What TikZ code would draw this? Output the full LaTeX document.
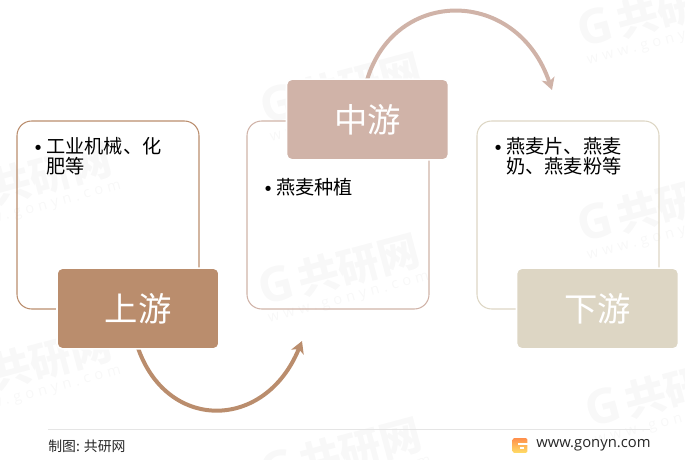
\documentclass[tikz,border=0pt]{standalone}
\usepackage{fontspec}
\usetikzlibrary{arrows.meta}
\newfontfamily\cjk{Noto Sans CJK SC}
\newfontfamily\latinfont{Open Sans}
\definecolor{upcol}{HTML}{BA8D6D}
\definecolor{midcol}{HTML}{D0B3A8}
\definecolor{downcol}{HTML}{DDD6C4}
\definecolor{markcol}{HTML}{F8F8F8}
\newcommand{\itemdot}{\makebox[9pt][l]{\hspace{-2.6pt}\raisebox{0.4pt}{\normalfont\textbullet}}}
\newcommand{\itemgap}{\hspace*{9pt}}
\newcommand{\wmarkat}[3]{%
    \node (#1g) at (#2,#3)[wmark,anchor=base west,font=\latinfont\bfseries\fontsize{36}{36}\selectfont]{G};
    \node (#1n) at ([shift={(39,-10)}]#2,#3)[wmark,anchor=base west,font=\cjk\bfseries\fontsize{31}{33}\selectfont]{共研网};
    \node (#1u) at ([shift={(6,17)}]#2,#3)[wmark,anchor=base west,font=\latinfont\fontsize{11}{12}\addfontfeature{LetterSpace=30}\selectfont]{www.gonyn.com};
}
\tikzset{
    panel/.style={draw=#1,fill=none,rectangle,rounded corners=11pt,line width=0.8pt,minimum width=136.5pt,minimum height=141pt},
    header/.style={fill=#1,draw=white,line width=1.2pt,rectangle,rounded corners=4pt,minimum width=121.5pt,minimum height=60.5pt,text=white,font=\cjk\fontsize{25}{28}\selectfont},
    listtext/.style={anchor=north west,inner sep=0pt,align=left,font=\cjk\fontsize{14.4}{15}\selectfont},
    flow/.style={draw=#1,line width=3pt,-{Stealth[length=9pt,width=10pt,inset=2.5pt]}},
    wmark/.style={rotate=15,text=markcol,inner sep=0pt},
    foot/.style={inner sep=0pt,text=black!85}
}
\begin{document}
\begin{tikzpicture}[x=0.75pt,y=-0.75pt]
    \useasboundingbox (0,0) rectangle (685,460);
    % watermarks
    \wmarkat{wa}{582}{48}
    \wmarkat{wb}{265}{125}
    \wmarkat{wc}{263}{306}
    \wmarkat{wd}{-45}{400}
    \wmarkat{we}{582}{243}
    \wmarkat{wf}{590}{428}
    \wmarkat{wg}{265}{490}
    \wmarkat{wh}{-45}{215}
    % panels
    \node (p1) at (108,215)[panel=upcol]{};
    \node (p2) at (338,215)[panel=midcol]{};
    \node (p3) at (568,215)[panel=downcol]{};
    % free ends of the arrows
    \coordinate (a1) at (137,345);
    \coordinate (b1) at (302,341);
    \coordinate (a2) at (367,80);
    \coordinate (b2) at (552,90);
    \draw [flow=upcol] (a1) .. controls (165,432) and (265,432) .. (b1);
    \draw [flow=midcol] (a2) .. controls (395,-13) and (517,-13) .. (b2);
    % headers
    \node (h1) at (138,308.5)[header=upcol]{上游};
    \node (h2) at (367.5,119.5)[header=midcol]{中游};
    \node (h3) at (597.5,308.5)[header=downcol]{下游};
    % lists
    \node (t1) at (34,137)[listtext]{\itemdot 工业机械、化\\\itemgap 肥等};
    \node (t2) at (264,178)[listtext]{\itemdot 燕麦种植};
    \node (t3) at (494,137)[listtext]{\itemdot 燕麦片、燕麦\\\itemgap 奶、燕麦粉等};
    % footer
    \coordinate (r1) at (48,429.5);
    \coordinate (r2) at (650,429.5);
    \draw [black!10,line width=0.75pt] (r1)--(r2);
    \node (src) at (48,446)[foot,anchor=west,font=\cjk\fontsize{10.4}{12}\selectfont]{制图: 共研网};
    \node (logo) at (520,445.5)[top color=orange!75!red!70,bottom color=orange!45!yellow!60,rectangle,rounded corners=1pt,minimum size=11pt,inner sep=0pt]{};
    \fill [white] (518,442.5) rectangle (527.5,444.5);
    \fill [white] (520,446.5) rectangle (524,448.5);
    \node (site) at (536,445)[foot,anchor=west,font=\latinfont\fontsize{11.1}{12}\selectfont]{www.gonyn.com};
\end{tikzpicture}
\end{document}
